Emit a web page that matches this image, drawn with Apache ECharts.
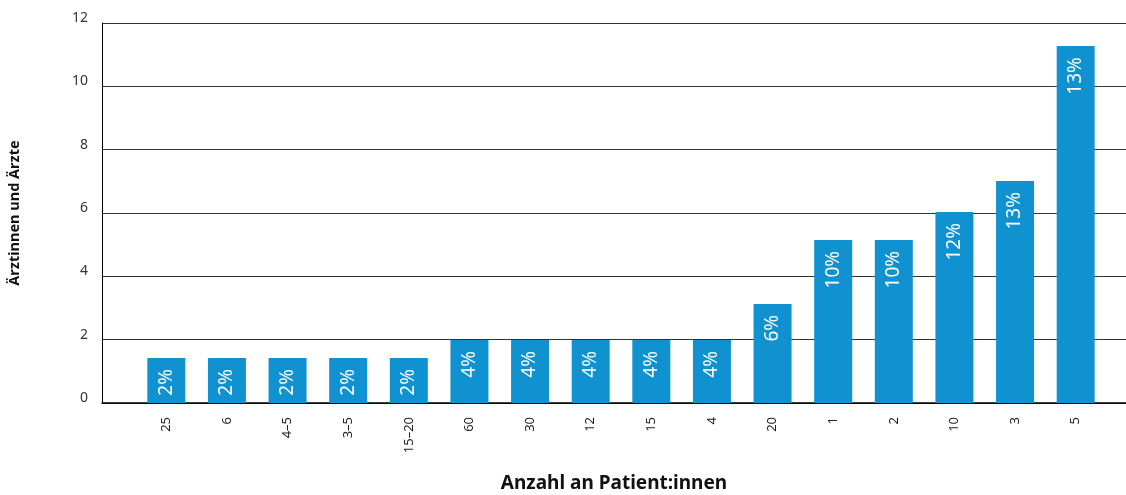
<!DOCTYPE html>
<html><head><meta charset="utf-8">
<script src="https://cdn.jsdelivr.net/npm/echarts@6/dist/echarts.min.js"></script>
<style>html,body{margin:0;padding:0;background:#fff}#c{width:1126px;height:495px}</style>
</head><body><div id="c"></div>
<script>
const categories = ['25','6','4–5','3–5','15–20','60','30','12','15','4','20','1','2','10','3','5'];
const values = [1.42,1.42,1.42,1.42,1.42,1.99,1.99,1.99,1.99,1.99,3.13,5.15,5.15,6.03,7.01,11.27];
const percentLabels = ['2%','2%','2%','2%','2%','4%','4%','4%','4%','4%','6%','10%','10%','12%','13%','13%'];
const yTicks = [0,2,4,6,8,10,12];

const chart = echarts.init(document.getElementById('c'));
const font = 'Noto Sans';
chart.setOption({
  animation:false,
  textStyle:{fontFamily:font},
  grid:[
    {left:102,right:0,top:23,bottom:92,containLabel:false,outerBoundsMode:'none'},
    {left:136,width:970,top:23,bottom:92,containLabel:false,outerBoundsMode:'none'}
  ],
  xAxis:[
    {gridIndex:0,type:'value',min:0,max:1,axisLine:{show:true,onZero:false,lineStyle:{color:'#000',width:1.5}},
     axisTick:{show:false},axisLabel:{show:false},splitLine:{show:false},
     name:'Anzahl an Patient:innen',nameLocation:'middle',nameGap:71,
     nameTextStyle:{fontFamily:font,fontSize:19,fontWeight:'bold',color:'#111'}},
    {gridIndex:1,type:'category',data:categories,axisLine:{show:false},axisTick:{show:false},
     axisLabel:{rotate:90,fontSize:13,color:'#222',margin:14,fontFamily:font}}
  ],
  yAxis:[
    {gridIndex:0,type:'value',min:yTicks[0],max:yTicks[yTicks.length-1],interval:2,
     axisLine:{show:true,lineStyle:{color:'#000',width:1}},axisTick:{show:false},
     axisLabel:{fontSize:14,color:'#333',margin:14,fontFamily:font,verticalAlign:'bottom',lineHeight:10},
     splitLine:{show:true,lineStyle:{color:'#333',width:1}},
     name:'Ärztinnen und Ärzte',nameLocation:'middle',nameGap:80,
     nameTextStyle:{fontFamily:font,fontSize:14.5,fontWeight:'bold',color:'#111'}},
    {gridIndex:1,type:'value',min:0,max:12,show:false}
  ],
  series:[{
    type:'bar',xAxisIndex:1,yAxisIndex:1,data:values,barWidth:38,
    itemStyle:{color:'#1092d1'},
    label:{show:true,position:'insideTop',rotate:90,align:'right',verticalAlign:'middle',distance:11,
      color:'#fff',fontSize:19,fontFamily:font,
      formatter:p=>percentLabels[p.dataIndex]}
  }]
});
</script></body></html>
